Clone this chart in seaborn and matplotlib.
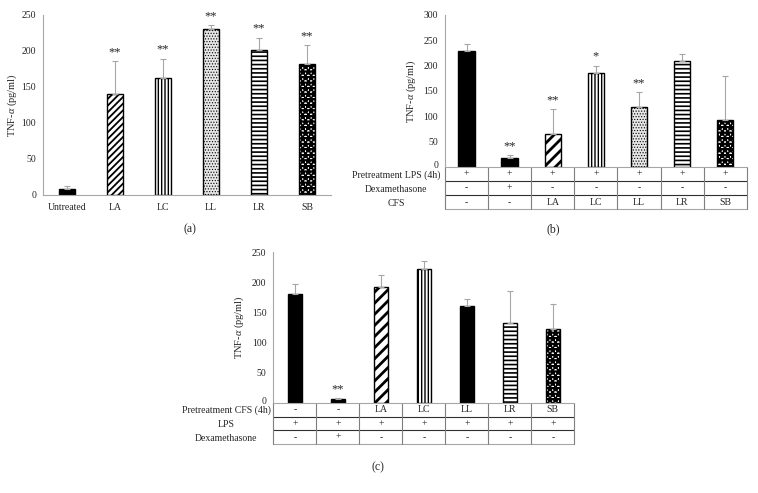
import numpy as np
import pandas as pd
import matplotlib
matplotlib.use("Agg")
import matplotlib.pyplot as plt
import matplotlib.transforms as mtransforms
import seaborn as sns

# ---------------- data ----------------
a_groups = ["Untreated", "LA", "LC", "LL", "LR", "SB"]
a_mean = [8, 140, 162, 230, 201, 182]
a_sd = [5, 46, 27, 6, 17, 26]
a_sig = ["", "**", "**", "**", "**", "**"]

b_groups = ["LPS", "LPS+Dex", "LA", "LC", "LL", "LR", "SB"]
b_mean = [229, 18, 65, 185, 119, 210, 93]
b_sd = [14, 5, 49, 15, 28, 12, 86]
b_sig = ["", "**", "**", "*", "**", "", ""]
b_row_labels = ["Pretreatment LPS (4h)", "Dexamethasone", "CFS"]
b_rows = [["+", "+", "+", "+", "+", "+", "+"],
          ["-", "+", "-", "-", "-", "-", "-"],
          ["-", "-", "LA", "LC", "LL", "LR", "SB"]]

c_groups = ["Ctrl", "Dex", "LA", "LC", "LL", "LR", "SB"]
c_mean = [180, 5.5, 192, 222, 160, 132, 122]
c_sd = [18, 2, 20, 13, 13, 54, 42]
c_sig = ["", "**", "", "", "", "", ""]
c_row_labels = ["Pretreatment CFS (4h)", "LPS", "Dexamethasone"]
c_rows = [["-", "-", "LA", "LC", "LL", "LR", "SB"],
          ["+", "+", "+", "+", "+", "+", "+"],
          ["-", "+", "-", "-", "-", "-", "-"]]

a_yticks = [0, 50, 100, 150, 200, 250]
b_yticks = [0, 50, 100, 150, 200, 250, 300]
c_yticks = [0, 50, 100, 150, 200, 250]

# ---------------- style ----------------
sns.set_theme(style="white")
plt.rcParams['font.family'] = ['Liberation Serif', 'DejaVu Serif']
plt.rcParams['mathtext.fontset'] = 'custom'
plt.rcParams['mathtext.it'] = 'Liberation Serif:italic'
plt.rcParams['mathtext.rm'] = 'Liberation Serif'
plt.rcParams['hatch.linewidth'] = 1.0

TXT = '#262626'
GRAY = '#a6a6a6'
FS = 7

W, H = 758, 493
fig = plt.figure(figsize=(W / 100, H / 100), dpi=100)


def ax_px(left, top, right, bottom):
    return fig.add_axes([left / W, 1 - bottom / H, (right - left) / W, (bottom - top) / H])


STYLE = {
    "black": dict(fc="black", hatch=None, hlw=1.0),
    "diag_fine": dict(fc="white", hatch="/////", hlw=1.3),
    "diag": dict(fc="white", hatch="///", hlw=2.0),
    "vert": dict(fc="white", hatch="|||||", hlw=1.0),
    "dots": dict(fc="#e6e6e6", hatch="......", hlw=0.5),
    "horiz": dict(fc="white", hatch="----", hlw=1.2),
    "check": dict(fc="white", hatch="***", hlw=1.6),
}


def draw_panel(ax, groups, mean, sd, sig, styles, yticks, width, lpad):
    df = pd.DataFrame({"group": groups, "mean": mean})
    sns.barplot(data=df, x="group", y="mean", order=groups, color="white",
                edgecolor="black", linewidth=1.0, width=width, errorbar=None,
                ax=ax, saturation=1)
    for patch, st in zip(ax.patches, styles):
        s = STYLE[st]
        patch.set_facecolor(s["fc"])
        patch.set_edgecolor("black")
        if s["hatch"]:
            patch.set_hatch(s["hatch"])
            if hasattr(patch, "set_hatch_linewidth"):
                patch.set_hatch_linewidth(s["hlw"])
    x = np.arange(len(groups))
    ax.errorbar(x, mean, yerr=[np.zeros(len(sd)), sd], fmt="none",
                ecolor=GRAY, elinewidth=0.8, capsize=2.5, capthick=0.8, zorder=3)
    for xi, m, s, t in zip(x, mean, sd, sig):
        if t:
            ax.annotate(t, (xi, m + s), xytext=(0, 2), textcoords="offset points",
                        ha="center", va="bottom", fontsize=9, color=TXT)
    ax.set_xlim(-0.5, len(groups) - 0.5)
    ax.set_ylim(yticks[0], yticks[-1])
    ax.set_yticks(yticks)
    ax.set_yticklabels([str(v) for v in yticks], fontsize=FS, color=TXT)
    ax.tick_params(axis="both", length=0, pad=5)
    for sp in ["top", "right"]:
        ax.spines[sp].set_visible(False)
    for sp in ["left", "bottom"]:
        ax.spines[sp].set_color(GRAY)
        ax.spines[sp].set_linewidth(0.8)
    ax.set_xlabel("")
    ax.set_ylabel(r"TNF-$\it{\alpha}$ (pg/ml)", fontsize=7.5, color=TXT, labelpad=lpad)
    ax.patch.set_alpha(0)


def draw_table(ax, rows, labels, row_px, label_offset_px):
    ax.set_xticks([])
    lab0 = ax.get_yticklabels()[0]
    lab0.set_transform(lab0.get_transform() +
                       mtransforms.ScaledTranslation(0, 2.5 / 100, fig.dpi_scale_trans))
    bbox = ax.get_position()
    ax_h_px = bbox.height * H
    rh = row_px / ax_h_px
    n = len(rows[0])
    trans = ax.get_xaxis_transform()
    nrows = len(rows)
    for r in range(1, nrows + 1):
        y = -r * rh
        col = GRAY if r == nrows else '#303030'
        ax.plot([-0.5, n - 0.5], [y, y], transform=trans, color=col, lw=0.8, clip_on=False)
    for c in range(n + 1):
        ax.plot([c - 0.5, c - 0.5], [0, -nrows * rh], transform=trans,
                color='#7f7f7f', lw=0.8, clip_on=False)
    for r, row in enumerate(rows):
        yc = -(r + 0.5) * rh
        for c, t in enumerate(row):
            ax.text(c, yc, t, transform=trans, ha="center", va="center",
                    fontsize=FS, color=TXT)
        lx = bbox.x0 - label_offset_px / W
        ly = bbox.y0 + yc * bbox.height - 1.0 / H
        fig.text(lx, ly, labels[r], ha="center", va="center", fontsize=FS, color=TXT)


# ---- panel (a)
ax_a = ax_px(43, 14.5, 331, 195)
draw_panel(ax_a, a_groups, a_mean, a_sd, a_sig,
           ["black", "diag_fine", "vert", "dots", "horiz", "check"], a_yticks, 0.33, 1.5)
ax_a.set_xticks(range(len(a_groups)))
ax_a.set_xticklabels(a_groups, fontsize=FS, color=TXT)
ax_a.tick_params(axis="x", pad=6)

# ---- panel (b)
ax_b = ax_px(445, 15, 746.7, 166.7)
draw_panel(ax_b, b_groups, b_mean, b_sd, b_sig,
           ["black", "black", "diag", "vert", "dots", "horiz", "check"], b_yticks, 0.38, 4)
draw_table(ax_b, b_rows, b_row_labels, 14.2, 49)

# ---- panel (c)
ax_c = ax_px(273.3, 252.3, 574.3, 402.7)
draw_panel(ax_c, c_groups, c_mean, c_sd, c_sig,
           ["black", "black", "diag", "vert", "black", "horiz", "check"], c_yticks, 0.33, 4)
draw_table(ax_c, c_rows, c_row_labels, 13.8, 47)

fig.text(190 / W, 1 - 229 / H, "(a)", ha="center", va="center", fontsize=8.5, color=TXT)
fig.text(553 / W, 1 - 229 / H, "(b)", ha="center", va="center", fontsize=8.5, color=TXT)
fig.text(378 / W, 1 - 467 / H, "(c)", ha="center", va="center", fontsize=8.5, color=TXT)

fig.savefig("out.png", dpi=100, facecolor="white")
